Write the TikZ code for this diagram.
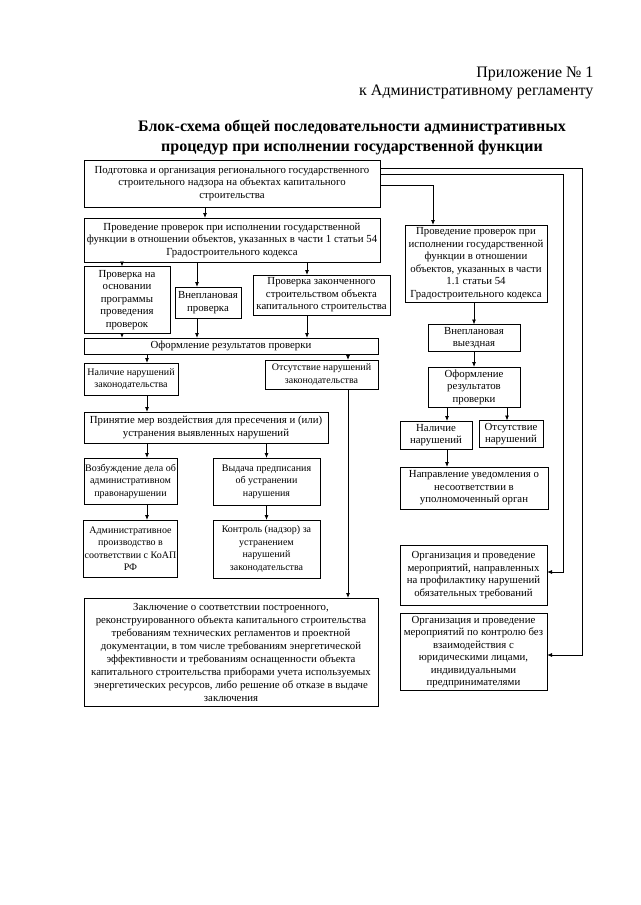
\documentclass[tikz,border=0pt]{standalone}
\usepackage{fontspec}
\setmainfont{Liberation Serif}
\usetikzlibrary{arrows.meta}

\begin{document}
\begin{tikzpicture}[x=1pt, y=-1pt,
            box/.style={rectangle, draw=black, line width=0.9pt, align=center, inner sep=1pt, outer sep=0pt, font=\fontsize{10.8}{12.5}\selectfont},
            sbox/.style={box, font=\fontsize{10}{12.5}\selectfont},
            arrow/.style={-{Latex[length=5pt,width=4pt]}, line width=0.8pt}
        ]
        \fill[white] (0,0) rectangle (640,905);
        \useasboundingbox (0,0) rectangle (640,905);

        % Заголовок
        \node[anchor=east, font=\fontsize{16}{19}\selectfont] (pril) at (597,74) {Приложение № 1};
        \node[anchor=east, font=\fontsize{16}{19}\selectfont] (regl) at (597,92) {к Административному регламенту};
        \node[align=center, font=\bfseries\fontsize{16}{20}\selectfont] (title) at (352,137) {Блок-схема общей последовательности административных\\процедур при исполнении государственной функции};

        % Левая ветвь
        \node[box, minimum width=296pt, minimum height=47pt] (prep) at (232,183.5) {Подготовка и организация регионального государственного\\строительного надзора на объектах капитального\\строительства};
        \node[box, minimum width=296pt, minimum height=44pt] (prov1) at (232,240) {Проведение проверок при исполнении государственной\\функции в отношении объектов, указанных в части 1 статьи 54\\Градостроительного кодекса};
        \node[box, minimum width=86pt, minimum height=67pt] (plan) at (127,300) {Проверка на\\основании\\программы\\проведения\\проверок};
        \node[box, minimum width=66pt, minimum height=31pt] (vnepl) at (208,302.5) {Внеплановая\\проверка};
        \node[box, minimum width=137pt, minimum height=40pt] (zakon) at (321.5,295) {Проверка законченного\\строительством объекта\\капитального строительства};
        \node[box, minimum width=294pt, minimum height=16pt] (oform) at (231,346) {Оформление результатов проверки};
        \node[sbox, minimum width=94pt, minimum height=32pt] (nal1) at (131,379) {Наличие нарушений\\законодательства};
        \node[sbox, minimum width=113pt, minimum height=29pt] (ots1) at (321.5,374.5) {Отсутствие нарушений\\законодательства};
        \node[box, minimum width=244pt, minimum height=31pt] (prin) at (206,427.5) {Принятие мер воздействия для пресечения и (или)\\устранения выявленных нарушений};
        \node[sbox, minimum width=93pt, minimum height=46pt] (vozb) at (130.5,481) {Возбуждение дела об\\административном\\правонарушении};
        \node[sbox, minimum width=107pt, minimum height=47pt] (vyd) at (266.5,481.5) {Выдача предписания\\об устранении\\нарушения};
        \node[sbox, minimum width=93pt, minimum height=57pt] (adm) at (130.5,548.5) {Административное\\производство в\\соответствии с КоАП\\РФ};
        \node[sbox, minimum width=107pt, minimum height=58pt] (kontr) at (266.5,549) {Контроль (надзор) за\\устранением\\нарушений\\законодательства};
        \node[box, minimum width=294pt, minimum height=108pt, font=\fontsize{10.8}{13}\selectfont] (zakl) at (231,652) {Заключение о соответствии построенного,\\реконструированного объекта капитального строительства\\требованиям технических регламентов и проектной\\документации, в том числе требованиям энергетической\\эффективности и требованиям оснащенности объекта\\капитального строительства приборами учета используемых\\энергетических ресурсов, либо решение об отказе в выдаче\\заключения};

        % Правая ветвь
        \node[box, minimum width=142pt, minimum height=77pt] (prov2) at (476,263.5) {Проведение проверок при\\исполнении государственной\\функции в отношении\\объектов, указанных в части\\1.1 статьи 54\\Градостроительного кодекса};
        \node[box, minimum width=92pt, minimum height=27pt] (vyezd) at (474,338) {Внеплановая\\выездная};
        \node[box, minimum width=92pt, minimum height=40pt] (oform2) at (474,387) {Оформление\\результатов\\проверки};
        \node[box, minimum width=72pt, minimum height=28pt] (nal2) at (436,435) {Наличие\\нарушений};
        \node[box, minimum width=64pt, minimum height=27pt] (ots2) at (511,434) {Отсутствие\\нарушений};
        \node[box, minimum width=148pt, minimum height=42pt] (napr) at (474,488) {Направление уведомления о\\несоответствии в\\уполномоченный орган};
        \node[box, minimum width=147pt, minimum height=60pt] (org1) at (473.5,575) {Организация и проведение\\мероприятий, направленных\\на профилактику нарушений\\обязательных требований};
        \node[box, minimum width=147pt, minimum height=77pt] (org2) at (473.5,652) {Организация и проведение\\мероприятий по контролю без\\взаимодействия с\\юридическими лицами,\\индивидуальными\\предпринимателями};

        % Связи слева
        \draw[arrow] ([xshift=-27pt]prep.south) -- ([xshift=-27pt]prov1.north);
        \draw[arrow] ([xshift=-5pt]plan.north |- prov1.south) -- ([xshift=-5pt]plan.north);
        \draw[arrow] ([xshift=-11pt]vnepl.north |- prov1.south) -- ([xshift=-11pt]vnepl.north);
        \draw[arrow] ([xshift=-14.5pt]zakon.north |- prov1.south) -- ([xshift=-14.5pt]zakon.north);
        \draw[arrow] ([xshift=-5pt]plan.south) -- ([xshift=-5pt]plan.south |- oform.north);
        \draw[arrow] ([xshift=-11pt]vnepl.south) -- ([xshift=-11pt]vnepl.south |- oform.north);
        \draw[arrow] ([xshift=-14.5pt]zakon.south) -- ([xshift=-14.5pt]zakon.south |- oform.north);
        \draw[arrow] ([xshift=16pt]nal1.north |- oform.south) -- ([xshift=16pt]nal1.north);
        \draw[arrow] ([xshift=26.5pt]ots1.north |- oform.south) -- ([xshift=26.5pt]ots1.north);
        \draw[arrow] ([xshift=16pt]nal1.south) -- ([xshift=16pt]nal1.south |- prin.north);
        \draw[arrow] ([xshift=26.5pt]ots1.south) -- ([xshift=26.5pt]ots1.south |- zakl.north);
        \draw[arrow] ([xshift=16.5pt]vozb.north |- prin.south) -- ([xshift=16.5pt]vozb.north);
        \draw[arrow] (vyd.north |- prin.south) -- (vyd.north);
        \draw[arrow] ([xshift=16.5pt]vozb.south) -- ([xshift=16.5pt]vozb.south |- adm.north);
        \draw[arrow] (vyd.south) -- (kontr.north);

        % Связи справа
        \draw[arrow] ([yshift=-1.5pt]prep.east) -| ([xshift=-43pt]prov2.north);
        \draw[arrow] ([yshift=9.5pt]prep.east) -- ++(183,0) |- ([yshift=3pt]org1.east);
        \draw[arrow] ([yshift=15.5pt]prep.east) -- ++(202,0) |- ([yshift=-3pt]org2.east);
        \draw[arrow] (prov2.south -| vyezd.north) -- (vyezd.north);
        \draw[arrow] (vyezd.south) -- (oform2.north);
        \draw[arrow] ([xshift=11pt]nal2.north |- oform2.south) -- ([xshift=11pt]nal2.north);
        \draw[arrow] ([xshift=-4pt]ots2.north |- oform2.south) -- ([xshift=-4pt]ots2.north);
        \draw[arrow] ([xshift=11pt]nal2.south) -- ([xshift=11pt]nal2.south |- napr.north);
\end{tikzpicture}
\end{document}
